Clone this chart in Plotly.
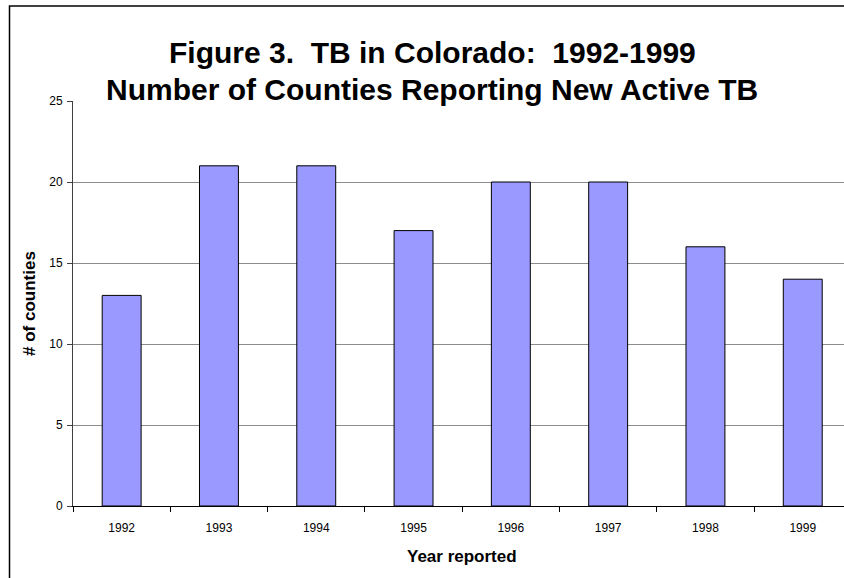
import plotly.graph_objects as go

years = ["1992", "1993", "1994", "1995", "1996", "1997", "1998", "1999"]
counties = [13, 21, 21, 17, 20, 20, 16, 14]
y_ticks = [0, 5, 10, 15, 20, 25]

W, H = 844, 578
L, R, T, B = 73, 844, 101, 506  # plot area in screen pixels


def px(x):
    return (x - L) / (R - L)


def py(y):
    return (B - y) / (B - T)


FONT = "Liberation Sans, Arial, sans-serif"

fig = go.Figure(
    go.Bar(
        x=years,
        y=counties,
        width=0.4,
        marker=dict(color="#9999FF", line=dict(color="#000000", width=1)),
    )
)

fig.update_layout(
    width=W,
    height=H,
    margin=dict(l=L, r=W - R, t=T, b=H - B, pad=0),
    paper_bgcolor="white",
    plot_bgcolor="white",
    showlegend=False,
    font=dict(family=FONT, color="black", size=12),
    bargap=0.6,
)

fig.update_xaxes(
    type="category",
    range=[-0.5, -0.5 + (R - L) / 97.3],
    showline=True,
    linecolor="black",
    linewidth=1,
    ticks="outside",
    tickson="boundaries",
    ticklen=5,
    tickcolor="black",
    tickfont=dict(size=12, family=FONT, color="black"),
    ticklabelstandoff=11,
    showgrid=False,
    zeroline=False,
)

fig.update_yaxes(
    range=[0, 25],
    tickvals=y_ticks,
    showline=True,
    linecolor="#404040",
    linewidth=1,
    ticks="outside",
    ticklen=5,
    tickcolor="#404040",
    tickfont=dict(size=12, family=FONT, color="black"),
    ticklabelstandoff=2,
    showgrid=True,
    gridcolor="#8c8c8c",
    gridwidth=1,
    zeroline=False,
)

NB = "\u00a0"
fig.add_annotation(
    text=f"<b>Figure 3.{NB} TB in Colorado:{NB} 1992-1999</b>",
    x=px(432), y=py(52), xref="paper", yref="paper",
    xanchor="center", yanchor="middle", showarrow=False,
    font=dict(size=30, family=FONT, color="black"),
)
fig.add_annotation(
    text="<b>Number of Counties Reporting New Active TB</b>",
    x=px(432), y=py(90), xref="paper", yref="paper",
    xanchor="center", yanchor="middle", showarrow=False,
    font=dict(size=30, family=FONT, color="black"),
)
fig.add_annotation(
    text="<b>Year reported</b>",
    x=px(462), y=py(556), xref="paper", yref="paper",
    xanchor="center", yanchor="middle", showarrow=False,
    font=dict(size=17, family=FONT, color="black"),
)
fig.add_annotation(
    text="<b># of counties</b>",
    x=px(29), y=py(304), xref="paper", yref="paper",
    xanchor="center", yanchor="middle", showarrow=False, textangle=-90,
    font=dict(size=17, family=FONT, color="black"),
)

# outer chart frame (left and top edges visible)
fig.add_shape(
    type="path",
    xref="paper", yref="paper",
    path=f"M {px(9.5)} {py(600)} L {px(9.5)} {py(6)} L {px(870)} {py(6)}",
    line=dict(color="black", width=1.5),
    layer="above",
)

fig.write_html(
    "out.html",
    config={"displayModeBar": False},
    post_script=(
        "document.documentElement.style.overflow='hidden';"
        "document.body.style.margin='0';"
        "document.body.style.overflow='hidden';"
    ),
)
